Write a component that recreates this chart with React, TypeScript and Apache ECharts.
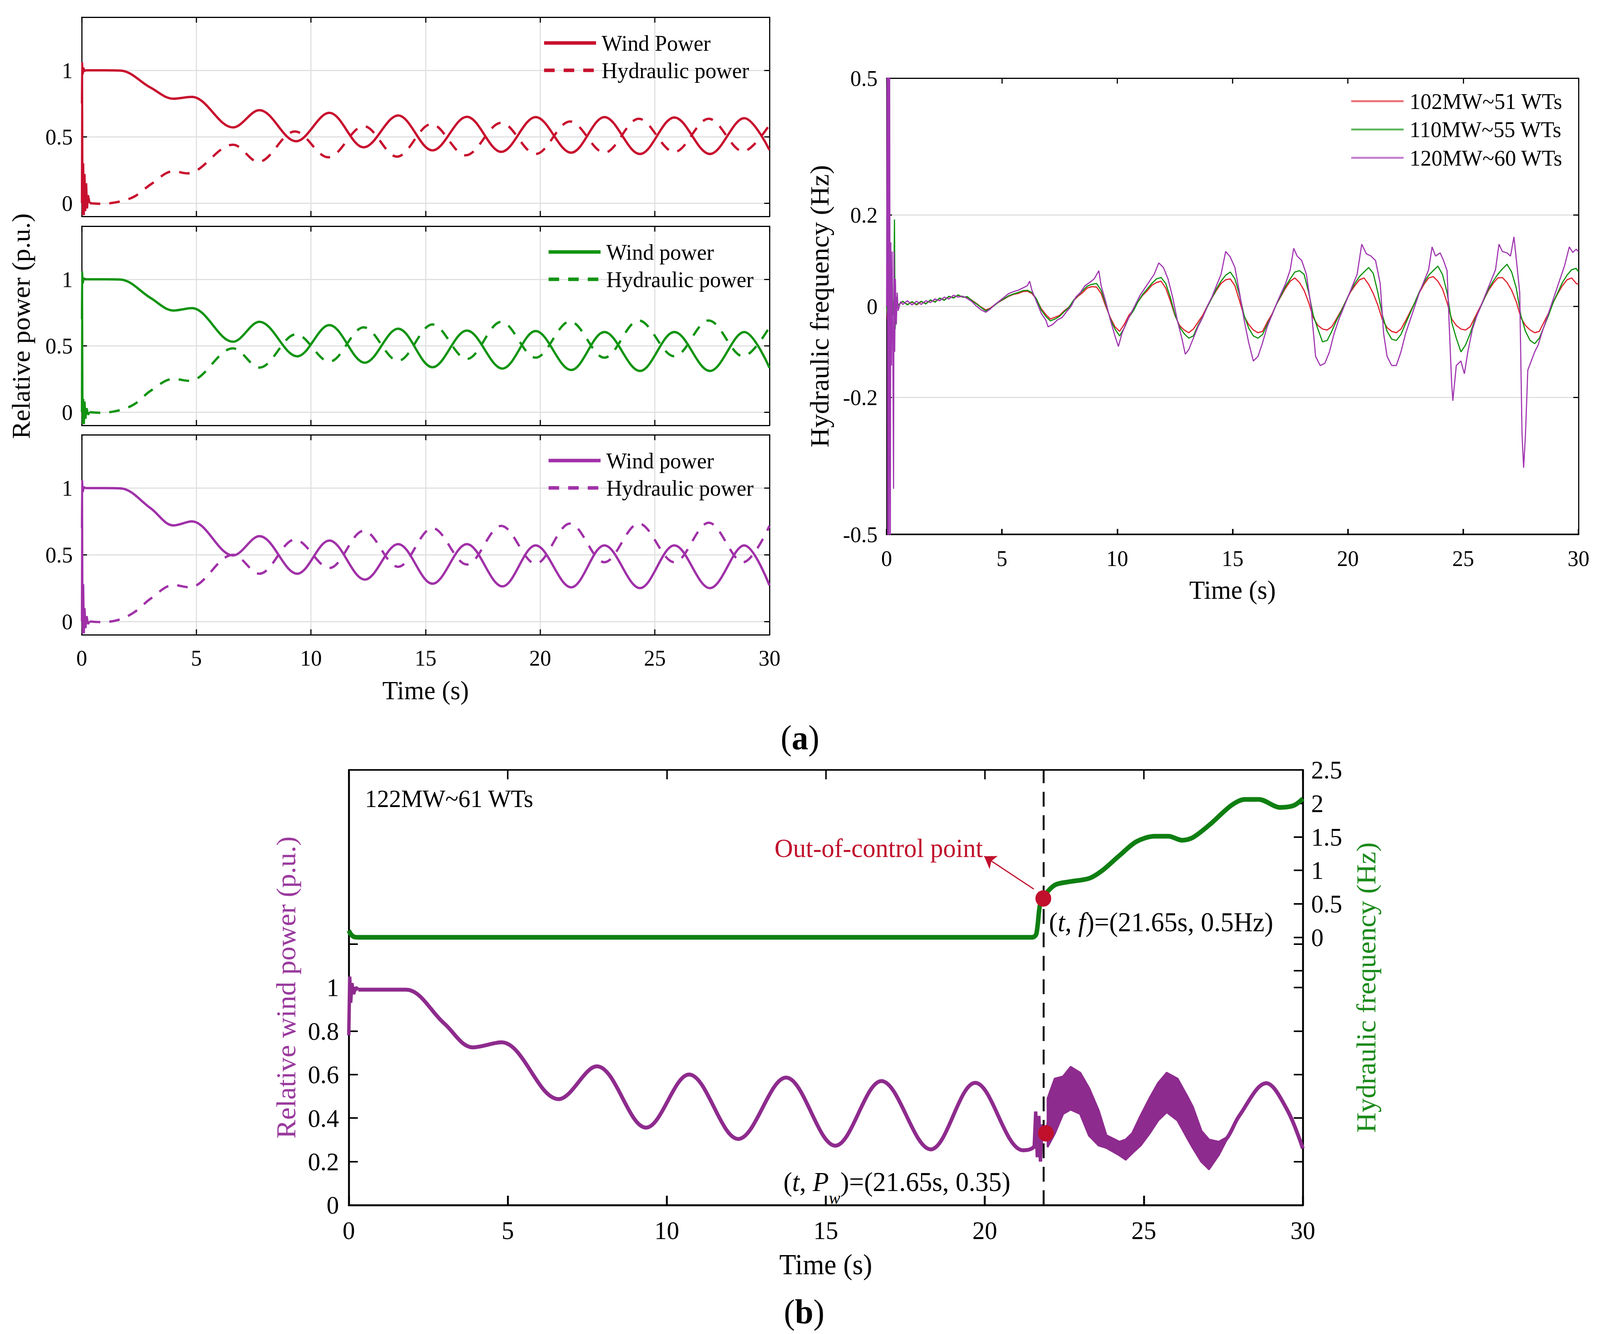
import React, { useEffect, useRef, useState } from "react";
import * as echarts from "echarts";

const FONT = '"Liberation Serif", "Times New Roman", "DejaVu Serif", serif';
const PAGE_W = 4248;
const PAGE_H = 3415;

// ---------------- shared axes ----------------
const TIME_MIN = 0;
const TIME_MAX = 30;
const TIME_STEP = 5;

// ---------------- (a) left: relative power, three cases ----------------
const POWER_MIN = -0.1;
const POWER_MAX = 1.4;
const POWER_TICKS = [0, 0.5, 1];

const windRed = [[0.15,1.0],[1.0,1.0],[1.7,0.998],[3.0,0.87],[4.0,0.786],[4.8,0.80],[6.6,0.57],[7.75,0.70],[9.35,0.466],[10.8,0.68],[12.3,0.42],[13.8,0.66],[15.3,0.397],[16.8,0.65],[18.3,0.386],[19.8,0.648],[21.35,0.38],[22.8,0.648],[24.35,0.37],[25.85,0.645],[27.4,0.37],[28.9,0.64],[30,0.40]];
const hydRed = [[0.35,0.0],[0.8,-0.005],[1.6,0.01],[2.3,0.05],[3.0,0.14],[4.0,0.24],[4.6,0.224],[6.6,0.44],[7.7,0.31],[9.3,0.54],[10.75,0.345],[12.3,0.58],[13.75,0.35],[15.25,0.595],[16.75,0.36],[18.3,0.605],[19.8,0.37],[21.3,0.615],[22.8,0.38],[24.3,0.635],[25.85,0.385],[27.35,0.635],[28.85,0.39],[30,0.59]];
const windRedStart = [[0,0.75],[0.02,1.06],[0.05,0.97],[0.08,1.02],[0.12,0.99],[0.15,1.0]];
const hydRedStart = [[0,0],[0.02,1.03],[0.04,-0.09],[0.07,0.3],[0.1,-0.09],[0.13,0.22],[0.16,-0.06],[0.2,0.15],[0.24,-0.04],[0.28,0.06],[0.35,0.0]];

const windGreen = [[0.15,1.0],[1.0,1.0],[1.7,0.998],[3.0,0.86],[4.0,0.765],[4.8,0.783],[6.6,0.53],[7.75,0.68],[9.4,0.42],[10.8,0.655],[12.35,0.372],[13.8,0.628],[15.3,0.338],[16.8,0.614],[18.35,0.328],[19.8,0.61],[21.35,0.317],[22.8,0.603],[24.35,0.31],[25.85,0.603],[27.4,0.31],[28.9,0.603],[30,0.334]];
const hydGreen = [[0.35,0.0],[0.8,-0.005],[1.6,0.012],[2.3,0.06],[3.0,0.16],[4.0,0.25],[4.7,0.235],[6.6,0.48],[7.75,0.335],[9.35,0.586],[10.8,0.38],[12.3,0.638],[13.8,0.386],[15.3,0.66],[16.8,0.40],[18.3,0.68],[19.8,0.41],[21.3,0.683],[22.8,0.41],[24.3,0.69],[25.85,0.42],[27.35,0.69],[28.85,0.42],[30,0.64]];
const windGreenStart = [[0,0.7],[0.02,1.06],[0.05,0.97],[0.1,1.01],[0.15,1.0]];
const hydGreenStart = [[0,0],[0.02,1.0],[0.04,-0.09],[0.07,0.1],[0.1,-0.09],[0.13,0.08],[0.17,-0.05],[0.22,0.03],[0.28,-0.02],[0.35,0.0]];

const windPurple = [[0.15,1.0],[1.0,1.0],[1.7,0.998],[3.0,0.85],[4.0,0.72],[4.8,0.75],[6.6,0.495],[7.75,0.64],[9.4,0.358],[10.8,0.607],[12.35,0.314],[13.8,0.58],[15.3,0.283],[16.8,0.58],[18.35,0.263],[19.8,0.57],[21.35,0.256],[22.8,0.57],[24.35,0.25],[25.85,0.57],[27.4,0.25],[28.9,0.57],[30,0.27]];
const hydPurple = [[0.35,0.0],[0.8,-0.005],[1.6,0.012],[2.3,0.07],[3.0,0.17],[4.0,0.273],[4.7,0.256],[6.6,0.50],[7.75,0.358],[9.3,0.614],[10.8,0.40],[12.3,0.68],[13.8,0.41],[15.3,0.70],[16.8,0.427],[18.3,0.717],[19.8,0.433],[21.3,0.734],[22.8,0.444],[24.3,0.734],[25.85,0.444],[27.35,0.74],[28.85,0.444],[30,0.717]];
const windPurpleStart = [[0,0.7],[0.02,1.06],[0.05,0.97],[0.1,1.01],[0.15,1.0]];
const hydPurpleStart = [[0,0],[0.02,1.0],[0.04,-0.09],[0.07,0.28],[0.1,-0.09],[0.13,0.1],[0.17,-0.05],[0.22,0.04],[0.28,-0.02],[0.35,0.0]];

// ---------------- (a) right: hydraulic frequency ----------------
const FREQ_MIN = -0.5;
const FREQ_MAX = 0.5;
const FREQ_TICKS = [-0.5, -0.2, 0, 0.2, 0.5];
const freqNames = ["102MW~51 WTs", "110MW~55 WTs", "120MW~60 WTs"];

const freq102 = [[0,0],[0.04,-0.03],[0.08,0.03],[0.12,-0.02],[0.16,0.02],[0.2,-0.01],[0.26,0.012],[0.32,-0.005],[0.4,0.008],[0.5,0.003],[0.7,0.01],[0.9,0.004],[1.1,0.009],[1.3,0.003],[1.5,0.01],[1.7,0.006],[1.9,0.013],[2.1,0.01],[2.3,0.017],[2.5,0.014],[2.7,0.021],[2.9,0.019],[3.1,0.024],[3.3,0.02],[3.5,0.02],[3.7,0.013],[3.9,0.006],[4.1,-0.002],[4.3,-0.008],[4.5,-0.004],[4.7,0.004],[4.9,0.01],[5.1,0.016],[5.3,0.022],[5.5,0.026],[5.7,0.028],[5.9,0.032],[6.1,0.033],[6.3,0.028],[6.5,0.015],[6.7,-0.005],[6.9,-0.018],[7.1,-0.028],[7.3,-0.024],[7.5,-0.02],[7.7,-0.01],[7.9,-0.002],[8.1,0.012],[8.3,0.022],[8.5,0.03],[8.7,0.04],[8.9,0.043],[9.1,0.042],[9.3,0.028],[9.5,0.0],[9.7,-0.025],[9.9,-0.045],[10.1,-0.055],[10.3,-0.04],[10.5,-0.02],[10.7,-0.008],[10.9,0.01],[11.1,0.024],[11.3,0.034],[11.5,0.046],[11.7,0.052],[11.9,0.055],[12.1,0.04],[12.3,0.012],[12.5,-0.02],[12.7,-0.042],[12.9,-0.052],[13.1,-0.058],[13.3,-0.05],[13.5,-0.035],[13.7,-0.02],[13.9,0.0],[14.1,0.018],[14.3,0.035],[14.5,0.05],[14.7,0.058],[14.9,0.06],[15.1,0.045],[15.3,0.012],[15.5,-0.022],[15.7,-0.04],[15.9,-0.052],[16.1,-0.058],[16.3,-0.055],[16.5,-0.035],[16.7,-0.018],[16.9,0.004],[17.1,0.022],[17.3,0.04],[17.5,0.055],[17.7,0.062],[17.9,0.052],[18.1,0.035],[18.3,0.008],[18.5,-0.025],[18.7,-0.042],[18.9,-0.05],[19.1,-0.052],[19.3,-0.045],[19.5,-0.028],[19.7,-0.01],[19.9,0.01],[20.1,0.03],[20.3,0.045],[20.5,0.058],[20.7,0.062],[20.9,0.048],[21.1,0.028],[21.3,0.002],[21.5,-0.03],[21.7,-0.047],[21.9,-0.055],[22.1,-0.058],[22.3,-0.05],[22.5,-0.032],[22.7,-0.012],[22.9,0.008],[23.1,0.03],[23.3,0.048],[23.5,0.062],[23.7,0.065],[23.9,0.055],[24.1,0.038],[24.3,0.008],[24.5,-0.028],[24.7,-0.042],[24.9,-0.05],[25.1,-0.052],[25.3,-0.045],[25.5,-0.025],[25.7,-0.005],[25.9,0.015],[26.1,0.035],[26.3,0.05],[26.5,0.062],[26.7,0.063],[26.9,0.052],[27.1,0.035],[27.3,0.01],[27.5,-0.025],[27.7,-0.042],[27.9,-0.052],[28.1,-0.058],[28.3,-0.055],[28.5,-0.035],[28.7,-0.015],[28.9,0.008],[29.1,0.028],[29.3,0.045],[29.5,0.058],[29.7,0.062],[29.9,0.05],[30,0.048]];
const freq110 = [[0,0],[0.04,-0.02],[0.08,0.02],[0.12,-0.03],[0.16,0.01],[0.2,-0.02],[0.26,0.01],[0.3,-0.02],[0.34,0.19],[0.37,-0.05],[0.42,0.02],[0.5,0.002],[0.7,0.011],[0.9,0.003],[1.1,0.01],[1.3,0.004],[1.5,0.011],[1.7,0.005],[1.9,0.014],[2.1,0.009],[2.3,0.018],[2.5,0.013],[2.7,0.022],[2.9,0.018],[3.1,0.025],[3.3,0.02],[3.5,0.021],[3.7,0.012],[3.9,0.005],[4.1,-0.003],[4.3,-0.01],[4.5,-0.005],[4.7,0.003],[4.9,0.011],[5.1,0.017],[5.3,0.023],[5.5,0.027],[5.7,0.03],[5.9,0.034],[6.1,0.035],[6.3,0.03],[6.5,0.016],[6.7,-0.008],[6.9,-0.022],[7.1,-0.032],[7.3,-0.028],[7.5,-0.022],[7.7,-0.012],[7.9,-0.003],[8.1,0.013],[8.3,0.024],[8.5,0.034],[8.7,0.044],[8.9,0.048],[9.1,0.05],[9.3,0.035],[9.5,0.005],[9.7,-0.028],[9.9,-0.05],[10.1,-0.065],[10.3,-0.048],[10.5,-0.025],[10.7,-0.01],[10.9,0.01],[11.1,0.026],[11.3,0.038],[11.5,0.05],[11.7,0.06],[11.9,0.063],[12.1,0.05],[12.3,0.02],[12.5,-0.018],[12.7,-0.045],[12.9,-0.06],[13.1,-0.07],[13.3,-0.065],[13.5,-0.042],[13.7,-0.024],[13.9,-0.002],[14.1,0.018],[14.3,0.038],[14.5,0.055],[14.7,0.068],[14.9,0.075],[15.1,0.06],[15.3,0.025],[15.5,-0.02],[15.7,-0.048],[15.9,-0.065],[16.1,-0.07],[16.3,-0.062],[16.5,-0.04],[16.7,-0.02],[16.9,0.004],[17.1,0.024],[17.3,0.044],[17.5,0.06],[17.7,0.075],[17.9,0.078],[18.1,0.07],[18.3,0.03],[18.5,-0.02],[18.7,-0.05],[18.9,-0.078],[19.1,-0.075],[19.3,-0.055],[19.5,-0.032],[19.7,-0.012],[19.9,0.01],[20.1,0.032],[20.3,0.05],[20.5,0.065],[20.7,0.075],[20.9,0.085],[21.1,0.072],[21.3,0.03],[21.5,-0.02],[21.7,-0.055],[21.9,-0.072],[22.1,-0.075],[22.3,-0.062],[22.5,-0.038],[22.7,-0.015],[22.9,0.008],[23.1,0.032],[23.3,0.052],[23.5,0.068],[23.7,0.078],[23.9,0.088],[24.1,0.07],[24.3,0.03],[24.5,-0.035],[24.7,-0.07],[24.9,-0.1],[25.1,-0.085],[25.3,-0.06],[25.5,-0.03],[25.7,-0.008],[25.9,0.015],[26.1,0.038],[26.3,0.055],[26.5,0.07],[26.7,0.082],[26.9,0.092],[27.1,0.075],[27.3,0.04],[27.5,-0.02],[27.7,-0.055],[27.9,-0.075],[28.1,-0.082],[28.3,-0.07],[28.5,-0.045],[28.7,-0.02],[28.9,0.008],[29.1,0.03],[29.3,0.052],[29.5,0.068],[29.7,0.08],[29.9,0.083],[30,0.075]];
const freq120 = [[0,0],[0.03,0.55],[0.05,-0.55],[0.08,0.55],[0.1,-0.55],[0.13,0.55],[0.16,-0.55],[0.18,0.14],[0.21,-0.13],[0.24,0.12],[0.27,-0.1],[0.3,-0.4],[0.32,0.12],[0.35,-0.1],[0.38,0.06],[0.42,-0.04],[0.46,0.03],[0.5,-0.01],[0.6,0.01],[0.7,0.004],[0.9,0.012],[1.1,0.003],[1.3,0.011],[1.5,0.004],[1.7,0.012],[1.9,0.008],[2.1,0.016],[2.3,0.012],[2.5,0.02],[2.7,0.016],[2.9,0.024],[3.1,0.02],[3.3,0.022],[3.5,0.017],[3.7,0.01],[3.9,0.0],[4.1,-0.008],[4.3,-0.013],[4.5,-0.006],[4.7,0.004],[4.9,0.012],[5.1,0.02],[5.3,0.028],[5.5,0.032],[5.7,0.035],[5.9,0.04],[6.1,0.045],[6.2,0.055],[6.3,0.035],[6.5,0.01],[6.7,-0.015],[6.9,-0.03],[7.0,-0.045],[7.2,-0.04],[7.4,-0.03],[7.6,-0.025],[7.8,-0.012],[8.0,0.0],[8.2,0.02],[8.4,0.03],[8.6,0.045],[8.8,0.052],[9.0,0.06],[9.2,0.078],[9.3,0.045],[9.5,0.01],[9.7,-0.03],[9.9,-0.065],[10.05,-0.088],[10.2,-0.06],[10.4,-0.035],[10.6,-0.015],[10.8,0.005],[11.0,0.025],[11.2,0.04],[11.4,0.055],[11.6,0.07],[11.8,0.095],[12.0,0.085],[12.2,0.06],[12.4,0.02],[12.6,-0.03],[12.8,-0.07],[12.95,-0.105],[13.1,-0.095],[13.3,-0.07],[13.5,-0.045],[13.7,-0.025],[13.9,0.0],[14.1,0.02],[14.3,0.045],[14.5,0.07],[14.7,0.12],[14.9,0.108],[15.1,0.085],[15.3,0.03],[15.5,-0.03],[15.7,-0.08],[15.9,-0.12],[16.1,-0.11],[16.3,-0.08],[16.5,-0.045],[16.7,-0.02],[16.9,0.005],[17.1,0.028],[17.3,0.05],[17.5,0.08],[17.65,0.127],[17.8,0.11],[18.0,0.1],[18.2,0.07],[18.4,0.0],[18.6,-0.11],[18.8,-0.13],[19.0,-0.125],[19.2,-0.1],[19.4,-0.06],[19.6,-0.03],[19.8,-0.005],[20.0,0.02],[20.2,0.045],[20.4,0.07],[20.6,0.136],[20.8,0.115],[21.0,0.11],[21.2,0.1],[21.4,0.05],[21.55,-0.06],[21.7,-0.11],[21.9,-0.13],[22.1,-0.13],[22.3,-0.1],[22.5,-0.06],[22.7,-0.03],[22.9,0.0],[23.1,0.03],[23.3,0.055],[23.5,0.08],[23.65,0.13],[23.8,0.11],[24.0,0.117],[24.15,0.1],[24.3,0.078],[24.4,-0.05],[24.5,-0.17],[24.55,-0.207],[24.7,-0.13],[24.9,-0.12],[25.05,-0.148],[25.2,-0.1],[25.4,-0.05],[25.6,-0.02],[25.8,0.005],[26.0,0.03],[26.2,0.055],[26.4,0.08],[26.55,0.136],[26.7,0.12],[26.9,0.117],[27.05,0.11],[27.2,0.152],[27.35,0.08],[27.45,0.03],[27.55,-0.28],[27.62,-0.354],[27.7,-0.28],[27.8,-0.14],[27.95,-0.12],[28.1,-0.1],[28.25,-0.085],[28.4,-0.06],[28.6,-0.03],[28.8,0.0],[29.0,0.03],[29.2,0.06],[29.4,0.09],[29.6,0.13],[29.75,0.118],[29.9,0.125],[30,0.12]];

// ---------------- (b) 122MW~61 WTs ----------------
const PW_MIN = 0;
const PW_MAX = 2;
const PW_LABELS = [0, 0.2, 0.4, 0.6, 0.8, 1];
const PW_TICKS = [0, 0.2, 0.4, 0.6, 0.8, 1, 1.2];
const HF_MIN = -4;
const HF_MAX = 2.5;
const HF_LABELS = [0, 0.5, 1, 1.5, 2, 2.5];
const HF_EXTRA_TICKS = [-0.5];

const windB = [[0.3,0.99],[1.0,0.99],[1.8,0.99],[3.0,0.835],[3.9,0.725],[4.8,0.748],[6.6,0.487],[7.8,0.638],[9.35,0.356],[10.7,0.6],[12.25,0.304],[13.75,0.586],[15.3,0.273],[16.75,0.57],[18.3,0.256],[19.7,0.562],[21.2,0.252],[21.5,0.262],[21.9,0.33],[22.1,0.42],[22.7,0.54],[23.3,0.43],[23.9,0.29],[24.45,0.255],[25.1,0.4],[25.75,0.52],[26.4,0.38],[27.05,0.235],[27.6,0.305],[28.0,0.41],[28.85,0.56],[29.5,0.44],[30,0.26]];
const windBStart = [[0,0.78],[0.03,1.05],[0.06,0.93],[0.1,1.02],[0.15,0.97],[0.22,1.0],[0.3,0.99]];
const windBBurst = [[21.55,0.26],[21.6,0.43],[21.65,0.22],[21.7,0.41],[21.75,0.2],[21.8,0.37],[21.9,0.33]];
// [time, lower edge, upper edge] of the dense oscillation band
const windBBand = [[21.98,0.27,0.49],[22.2,0.33,0.58],[22.46,0.42,0.59],[22.7,0.44,0.634],[23.0,0.42,0.607],[23.28,0.32,0.536],[23.58,0.275,0.433],[23.82,0.264,0.32],[24.23,0.23,0.29],[24.43,0.21,0.3],[24.64,0.24,0.33],[24.9,0.275,0.41],[25.18,0.33,0.49],[25.45,0.39,0.56],[25.72,0.428,0.607],[26.06,0.39,0.58],[26.4,0.3,0.49],[26.54,0.264,0.45],[26.81,0.2,0.34],[27.05,0.166,0.3],[27.36,0.232,0.29],[27.6,0.3,0.31]];
const freqB = [[0,0.1],[0.06,0.05],[0.15,0.01],[0.3,0.0],[21.5,0.0],[21.62,0.05],[21.73,0.47],[21.84,0.6],[22.2,0.78],[22.66,0.83],[23.28,0.88],[23.7,1.0],[24.23,1.22],[24.77,1.43],[25.34,1.51],[25.78,1.51],[26.2,1.45],[26.54,1.49],[27.09,1.69],[27.75,1.97],[28.18,2.06],[28.62,2.06],[29.28,1.94],[29.72,1.97],[30,2.07]];
const OUT_T = 21.85;
const outFreqPoint = [21.84, 0.58];
const outPowerPoint = [21.92, 0.33];
const arrowFrom = [21.54, 0.72];
const arrowTo = [19.98, 1.21];

// ---------------- colours ----------------
const RED = "#c8102e";
const GREEN = "#129412";
const PURPLE = "#a030a8";
const F_RED = "#e0202c";
const F_GREEN = "#0c920c";
const F_PURPLE = "#a035b0";
const B_PURPLE = "#8e2b8e";
const B_GREEN = "#0f7f12";
const MARK_RED = "#c0102c";
const GRIDLINE = "#e0e0e0";

const CASES = [
  { color: RED, windLabel: "Wind Power", wind: windRed, hyd: hydRed, windStart: windRedStart, hydStart: hydRedStart },
  { color: GREEN, windLabel: "Wind power", wind: windGreen, hyd: hydGreen, windStart: windGreenStart, hydStart: hydGreenStart },
  { color: PURPLE, windLabel: "Wind power", wind: windPurple, hyd: hydPurple, windStart: windPurpleStart, hydStart: hydPurpleStart },
];

function buildOption() {
  const grids = [
    { left: 217, top: 44, width: 1826, height: 510 },
    { left: 217, top: 579, width: 1826, height: 510 },
    { left: 217, top: 1113, width: 1826, height: 512 },
    { left: 2354, top: 200, width: 1837, height: 1168 },
    { left: 926, top: 1971, width: 2533, height: 1114 },
  ];

  const line = (w: number) => ({ show: true, onZero: false, lineStyle: { color: "#000", width: w } });
  const tick = (len: number, w: number, custom?: number[]) => ({
    show: true, inside: true, length: len, lineStyle: { color: "#000", width: w },
    ...(custom ? { customValues: custom } : {}),
  });

  const timeAxis = (g: number, o: any) => ({
    type: "value", gridIndex: g, min: TIME_MIN, max: TIME_MAX, interval: TIME_STEP,
    position: o.position,
    axisLine: line(o.lw),
    axisTick: tick(o.tl, o.lw),
    axisLabel: o.labels
      ? { show: true, fontSize: o.fs, margin: o.margin, color: "#000", fontFamily: FONT }
      : { show: false },
    splitLine: { show: !!o.split, lineStyle: { color: GRIDLINE, width: 3 } },
    ...(o.name
      ? { name: o.name, nameLocation: "middle", nameGap: o.nameGap, nameTextStyle: { fontSize: o.nfs, color: "#000", fontFamily: FONT } }
      : {}),
  });

  const xAxis: any[] = [];
  for (let i = 0; i < 3; i++) {
    const last = i === 2;
    xAxis.push(timeAxis(i, { position: "bottom", lw: 3, tl: 14, labels: last, fs: 58, margin: 30, split: true, name: last ? "Time (s)" : undefined, nameGap: 108, nfs: 68 }));
    xAxis.push(timeAxis(i, { position: "top", lw: 3, tl: 14, labels: false }));
  }
  xAxis.push(timeAxis(3, { position: "bottom", lw: 4, tl: 14, labels: true, fs: 58, margin: 32, name: "Time (s)", nameGap: 108, nfs: 68 }));
  xAxis.push(timeAxis(3, { position: "top", lw: 3, tl: 14, labels: false }));
  xAxis.push(timeAxis(4, { position: "bottom", lw: 5, tl: 24, labels: true, fs: 66, margin: 32, name: "Time (s)", nameGap: 116, nfs: 73 }));
  xAxis.push(timeAxis(4, { position: "top", lw: 4, tl: 24, labels: false }));

  const yAxis: any[] = [];
  for (let i = 0; i < 3; i++) {
    yAxis.push({
      type: "value", gridIndex: i, min: POWER_MIN, max: POWER_MAX, position: "left",
      axisLine: line(3), axisTick: tick(14, 3, POWER_TICKS),
      axisLabel: { show: true, customValues: POWER_TICKS, fontSize: 58, margin: 24, color: "#000", fontFamily: FONT },
      splitLine: { show: true, lineStyle: { color: GRIDLINE, width: 3 } },
    });
    yAxis.push({
      type: "value", gridIndex: i, min: POWER_MIN, max: POWER_MAX, position: "right",
      axisLine: line(3), axisTick: tick(14, 3, POWER_TICKS), axisLabel: { show: false }, splitLine: { show: false },
    });
  }
  yAxis.push({
    type: "value", gridIndex: 3, min: FREQ_MIN, max: FREQ_MAX, position: "left",
    axisLine: line(3), axisTick: tick(14, 3, FREQ_TICKS),
    axisLabel: { show: true, customValues: FREQ_TICKS, fontSize: 58, margin: 24, color: "#000", fontFamily: FONT },
    splitLine: { show: true, lineStyle: { color: GRIDLINE, width: 3 } },
    name: "Hydraulic frequency (Hz)", nameLocation: "middle", nameGap: 143,
    nameTextStyle: { fontSize: 70, color: "#000", fontFamily: FONT },
  });
  yAxis.push({
    type: "value", gridIndex: 3, min: FREQ_MIN, max: FREQ_MAX, position: "right",
    axisLine: line(3), axisTick: tick(14, 3, FREQ_TICKS), axisLabel: { show: false }, splitLine: { show: false },
  });
  // mirrored ticks of the left axis shown on the right spine (box style)
  const mirrored = PW_TICKS.map((v) => HF_MIN + ((v - PW_MIN) / (PW_MAX - PW_MIN)) * (HF_MAX - HF_MIN));
  yAxis.push({
    type: "value", gridIndex: 4, min: PW_MIN, max: PW_MAX, position: "left",
    axisLine: line(5), axisTick: tick(24, 4, PW_TICKS),
    axisLabel: { show: true, customValues: PW_LABELS, fontSize: 66, margin: 26, color: "#000", fontFamily: FONT },
    splitLine: { show: false },
    name: "Relative wind power (p.u.)", nameLocation: "middle", nameGap: 130,
    nameTextStyle: { fontSize: 72, color: "#9a3a9e", fontFamily: FONT },
  });
  yAxis.push({
    type: "value", gridIndex: 4, min: HF_MIN, max: HF_MAX, position: "right",
    axisLine: line(5), axisTick: tick(24, 4, [...mirrored, ...HF_EXTRA_TICKS, ...HF_LABELS]),
    axisLabel: { show: true, customValues: HF_LABELS, fontSize: 66, margin: 22, color: "#000", fontFamily: FONT },
    splitLine: { show: false },
    name: "Hydraulic frequency (Hz)", nameLocation: "middle", nameGap: 132,
    nameTextStyle: { fontSize: 72, color: "#1a8a1a", fontFamily: FONT },
  });

  const series: any[] = [];
  const legend: any[] = [];
  const legendTops = [81, 616, 1150];
  const legendLefts = [1440, 1452, 1452];
  CASES.forEach((c, i) => {
    const base = { type: "line", xAxisIndex: 2 * i, yAxisIndex: 2 * i, symbol: "none", showSymbol: false, itemStyle: { color: c.color } };
    series.push({ ...base, name: `${c.windLabel}#${i}`, data: c.wind, smooth: 0.35, lineStyle: { color: c.color, width: 6 } });
    series.push({ ...base, name: `Hydraulic power#${i}`, data: c.hyd, smooth: 0.35, lineStyle: { color: c.color, width: 6, type: [28, 24] } });
    series.push({ ...base, name: `start-wind#${i}`, data: c.windStart, lineStyle: { color: c.color, width: 5 } });
    series.push({ ...base, name: `start-hyd#${i}`, data: c.hydStart, lineStyle: { color: c.color, width: 5 } });
    legend.push({
      orient: "vertical", left: legendLefts[i], top: legendTops[i], padding: 0,
      itemWidth: 138, itemHeight: 20, itemGap: 12, selectedMode: false,
      data: [`${c.windLabel}#${i}`, `Hydraulic power#${i}`],
      formatter: (n: string) => n.split("#")[0],
      textStyle: { fontSize: 58, lineHeight: 58, color: "#000", fontFamily: FONT, padding: [0, 0, 0, 10] },
      lineStyle: { width: 9 },
      itemStyle: { opacity: 0 },
    });
  });

  const fCols = [F_RED, F_GREEN, F_PURPLE];
  [freq102, freq110, freq120].forEach((d, k) => {
    series.push({
      type: "line", name: freqNames[k], xAxisIndex: 6, yAxisIndex: 6, data: d,
      symbol: "none", showSymbol: false, itemStyle: { color: fCols[k] }, lineStyle: { color: fCols[k], width: 3 },
    });
  });
  legend.push({
    orient: "vertical", left: 3585, top: 230, padding: 0,
    itemWidth: 139, itemHeight: 14, itemGap: 14.5, selectedMode: false,
    data: freqNames,
    textStyle: { fontSize: 58, lineHeight: 58, color: "#000", fontFamily: FONT, padding: [0, 0, 0, 11] },
    lineStyle: { width: 5, opacity: 0.65 },
    itemStyle: { opacity: 0 },
  });

  // (b)
  const bBase = { type: "line", xAxisIndex: 8, symbol: "none", showSymbol: false };
  series.push({ ...bBase, name: "pw-start", yAxisIndex: 8, data: windBStart, lineStyle: { color: B_PURPLE, width: 9 }, z: 3 });
  series.push({ ...bBase, name: "pw", yAxisIndex: 8, data: windB, smooth: 0.35, lineStyle: { color: B_PURPLE, width: 10 }, z: 3 });
  series.push({ ...bBase, name: "pw-burst", yAxisIndex: 8, data: windBBurst, lineStyle: { color: B_PURPLE, width: 9 }, z: 3 });
  series.push({
    type: "custom", name: "pw-band", xAxisIndex: 8, yAxisIndex: 8, data: [[windBBand[0][0], windBBand[0][1]]], z: 3,
    renderItem: (_p: any, api: any) => {
      const pts: number[][] = [];
      windBBand.forEach((r) => pts.push(api.coord([r[0], r[2]])));
      for (let k = windBBand.length - 1; k >= 0; k--) pts.push(api.coord([windBBand[k][0], windBBand[k][1]]));
      return { type: "polygon", shape: { points: pts }, style: { fill: B_PURPLE, stroke: B_PURPLE, lineWidth: 6, lineJoin: "round" } };
    },
  });
  series.push({
    ...bBase, name: "freq", yAxisIndex: 9, data: freqB, smooth: 0.3, lineStyle: { color: B_GREEN, width: 12 }, z: 3,
    markLine: {
      silent: true, symbol: ["none", "arrow"], symbolSize: 30, label: { show: false },
      lineStyle: { color: MARK_RED, width: 3, type: "solid" },
      data: [[{ coord: arrowFrom }, { coord: arrowTo }]],
    },
  });
  series.push({
    ...bBase, name: "out-line", yAxisIndex: 8, data: [[OUT_T, PW_MIN], [OUT_T, PW_MAX]],
    lineStyle: { color: "#000", width: 5, type: [38, 22] }, z: 5,
  });
  series.push({ type: "scatter", name: "out-f", xAxisIndex: 8, yAxisIndex: 9, data: [outFreqPoint], symbolSize: 42, itemStyle: { color: MARK_RED, opacity: 1 }, z: 10 });
  series.push({ type: "scatter", name: "out-p", xAxisIndex: 8, yAxisIndex: 8, data: [outPowerPoint], symbolSize: 42, itemStyle: { color: MARK_RED, opacity: 1 }, z: 10 });

  const txt = (size: number, extra: any = {}) => ({ fontSize: size, fontFamily: FONT, fill: "#000", ...extra });

  const graphic: any[] = [
    { type: "text", x: 55, y: 835, rotation: Math.PI / 2, style: { text: "Relative power (p.u.)", ...txt(68), align: "center", verticalAlign: "middle" } },
    {
      type: "text", x: 2124, y: 1888,
      style: { text: "{n|(}{b|a}{n|)}", align: "center", verticalAlign: "middle", rich: { n: txt(88), b: txt(88, { fontWeight: "bold" }) } },
    },
    {
      type: "text", x: 2135, y: 3358,
      style: { text: "{n|(}{b|b}{n|)}", align: "center", verticalAlign: "middle", rich: { n: txt(88), b: txt(88, { fontWeight: "bold" }) } },
    },
    { type: "text", x: 969, y: 2045, style: { text: "122MW~61 WTs", ...txt(64), align: "left", verticalAlign: "middle" } },
    { type: "text", x: 2333, y: 2171, z: 20, style: { text: "Out-of-control point", ...txt(68, { fill: MARK_RED }), align: "center", verticalAlign: "middle" } },
    {
      type: "text", x: 2785, y: 2361, z: 20,
      style: {
        text: "{n|(}{i|t}{n|, }{i|f}{n|)=(21.65s, 0.5Hz)}", align: "left", verticalAlign: "middle",
        rich: { n: txt(70), i: txt(70, { fontStyle: "italic" }) },
      },
    },
    {
      type: "text", x: 2080, y: 3026, z: 20,
      style: {
        text: "{n|(}{i|t}{n|, }{i|P}{w|w}{n|)=(21.65s, 0.35)}", align: "left", verticalAlign: "middle",
        rich: {
          n: txt(70, { lineHeight: 128 }),
          i: txt(70, { fontStyle: "italic", lineHeight: 128 }),
          w: txt(46, { fontStyle: "italic", lineHeight: 46, verticalAlign: "bottom" }),
        },
      },
    },
  ];

  return {
    animation: false,
    backgroundColor: "#fff",
    textStyle: { fontFamily: FONT },
    grid: grids.map((g) => ({ ...g, containLabel: false })),
    xAxis,
    yAxis,
    legend,
    series,
    graphic,
  };
}

export default function App() {
  const ref = useRef<HTMLDivElement>(null);
  const [view, setView] = useState({ w: PAGE_W, h: PAGE_H });

  useEffect(() => {
    document.body.style.margin = "0";
    document.documentElement.style.overflow = "hidden";
    setView({ w: window.innerWidth || PAGE_W, h: window.innerHeight || PAGE_H });
  }, []);

  useEffect(() => {
    if (!ref.current) return;
    const chart = echarts.init(ref.current, null, { renderer: "svg" });
    chart.setOption(buildOption() as any);
    return () => chart.dispose();
  }, []);

  // The chart is laid out on the reference's 4248x3415 canvas and scaled to the real viewport.
  const sx = view.w / PAGE_W;
  const sy = view.h / PAGE_H;
  return (
    <div style={{ position: "absolute", left: 0, top: 0, width: view.w, height: view.h, overflow: "hidden", background: "#fff" }}>
      <div
        style={{
          position: "absolute", left: 0, top: 0, width: PAGE_W, height: PAGE_H,
          transform: `scale(${sx}, ${sy})`, transformOrigin: "0 0",
        }}
      >
        <div ref={ref} style={{ width: PAGE_W, height: PAGE_H }} />
      </div>
    </div>
  );
}
